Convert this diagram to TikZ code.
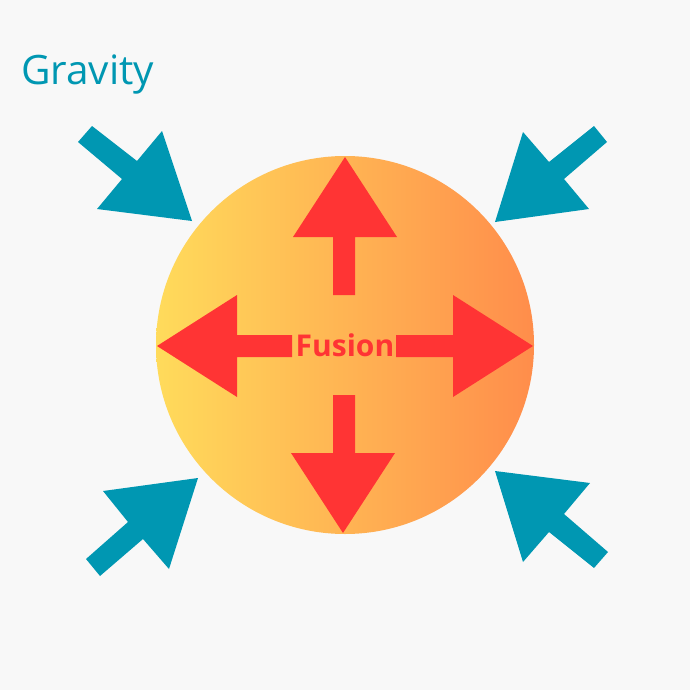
\documentclass[tikz,border=0pt]{standalone}
\usepackage{fontspec}
\setmainfont{Open Sans}
\definecolor{bg}{HTML}{F8F8F8}
\definecolor{teal}{HTML}{0097B2}
\definecolor{fred}{HTML}{FF3434}
\definecolor{sunL}{HTML}{FFDB5B}
\definecolor{sunR}{HTML}{FF8D4B}
\tikzset{
  gravarrow/.style={fill=teal, draw=none},
  fusarrow/.style={fill=fred, draw=none},
}
\begin{document}
\begin{tikzpicture}[x=1pt,y=-1pt]
\fill[bg] (0,0) rectangle (690,690);
\useasboundingbox (0,0) rectangle (690,690);
% sun
\shade[left color=sunL, right color=sunR] (345,345) circle (189);
% gravity arrows
\fill[gravarrow] (78,142) -- (92,126) -- (137,161) -- (162,131) -- (192,221) -- (97,209) -- (122,179) -- cycle;
\fill[gravarrow] (607,142) -- (594,126) -- (549,162) -- (523,132) -- (495,222) -- (589,209) -- (564,179) -- cycle;
\fill[gravarrow] (86,559) -- (100,576) -- (143,539) -- (169,569) -- (198,478) -- (103,491) -- (128,522) -- cycle;
\fill[gravarrow] (608,552) -- (594,568) -- (549,532) -- (523,562) -- (495,471) -- (590,483) -- (564,514) -- cycle;
% fusion arrows
\fill[fusarrow] (333,295) -- (333,237) -- (293,237) -- (345,157) -- (397,237) -- (355,237) -- (355,295) -- cycle;
\fill[fusarrow] (333,395) -- (333,453) -- (291,453) -- (343,533) -- (395,453) -- (355,453) -- (355,395) -- cycle;
\fill[fusarrow] (292,335) -- (237,335) -- (237,295) -- (157,346) -- (237,397) -- (237,357) -- (292,357) -- cycle;
\fill[fusarrow] (396,335) -- (453,335) -- (453,295) -- (533,346) -- (453,397) -- (453,357) -- (396,357) -- cycle;
% labels
\node[anchor=base west, text=teal, font=\fontsize{40.5}{40.5}\selectfont, inner sep=0pt] (grav) at (21,85) {Gravity};
\node[anchor=base, text=fred, font=\fontsize{30}{30}\selectfont\bfseries, inner sep=0pt] (fus) at (345,356.5) {Fusion};
\end{tikzpicture}
\end{document}
